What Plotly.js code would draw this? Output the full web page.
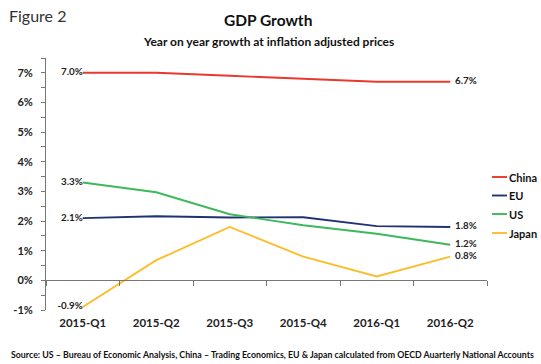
<!DOCTYPE html>
<html>
<head>
<meta charset="utf-8">
<script src="https://cdn.plot.ly/plotly-3.0.1.min.js"></script>
<style>html,body{margin:0;padding:0;background:#fff}#chart{width:541px;height:364px}</style>
</head>
<body>
<div id="chart"></div>
<script>
const quarters = ["2015-Q1","2015-Q2","2015-Q3","2015-Q4","2016-Q1","2016-Q2"];
const china = [7.0, 7.0, 6.9, 6.8, 6.7, 6.7];
const eu    = [2.1, 2.16, 2.12, 2.13, 1.83, 1.8];
const us    = [3.3, 2.97, 2.23, 1.86, 1.57, 1.2];
const japan = [-0.9, 0.68, 1.8, 0.8, 0.13, 0.8];
const seriesNames = ["China","EU","US","Japan"];
const seriesColors = ["#e8392c","#1f3370","#3cb95a","#fdbd2a"];
const yTicks = [-1,0,1,2,3,4,5,6,7];
const yTickText = yTicks.map(v => v + "%");

const FONT = "Lato, 'Liberation Sans', sans-serif";
const allSeries = [china, eu, us, japan];

function endLabels(vals){
  return vals.map((v,i)=> i===0 ? v.toFixed(1)+"%" : (i===vals.length-1 ? "\u00a0\u00a0" + v.toFixed(1)+"%" : ""));
}
function endPos(vals){
  return vals.map((v,i)=> i===0 ? "middle left" : "middle right");
}

const traces = allSeries.map((vals, k) => ({
  type: "scatter",
  mode: "lines+text",
  x: quarters,
  y: vals,
  name: seriesNames[k],
  line: {color: seriesColors[k], width: 1.9},
  text: endLabels(vals),
  textposition: endPos(vals),
  textfont: {family: FONT, size: 9.8, color: "#222", weight: "bold"},
  cliponaxis: false,
  showlegend: false,
  hoverinfo: "skip"
}));

// dummy trace for the zero-line axis
traces.push({type:"scatter", x: quarters, y: quarters.map(()=>null), xaxis:"x2", yaxis:"y", showlegend:false, hoverinfo:"skip"});

const px2x = p => (p - 46) / 441;
const px2y = p => (310 - p) / 252;

const shapes = [];
const annotations = [
  {text:"Figure 2", xref:"paper", yref:"paper", x:px2x(7), y:px2y(16), xanchor:"left", yanchor:"middle", showarrow:false,
   font:{family:FONT, size:16, color:"#333"}},
  {text:"<b>GDP Growth</b>", xref:"paper", yref:"paper", x:px2x(268), y:px2y(20), xanchor:"center", yanchor:"middle", showarrow:false,
   font:{family:FONT, size:15.5, color:"#111"}},
  {text:"<b>Year on year growth at inflation adjusted prices</b>", xref:"paper", yref:"paper", x:px2x(268), y:px2y(41), xanchor:"center", yanchor:"middle", showarrow:false,
   font:{family:FONT, size:12, color:"#111"}},
  {text:"<b>Source: US – Bureau of Economic Analysis, China – Trading Economics, EU &amp; Japan calculated from OECD Auarterly National Accounts</b>", xref:"paper", yref:"paper", x:px2x(9), y:px2y(354), xanchor:"left", yanchor:"middle", showarrow:false,
   font:{family:FONT, size:8.8, color:"#111"}}
];
const legendY = [177, 195.5, 214, 233];
seriesNames.forEach((n,k)=>{
  const py = px2y(legendY[k]);
  shapes.push({type:"line", xref:"paper", yref:"paper", x0:px2x(492), x1:px2x(507), y0:py, y1:py,
    line:{color:seriesColors[k], width:1.9}});
  annotations.push({text:"<b>"+n+"</b>", xref:"paper", yref:"paper", x:px2x(507), y:py, xanchor:"left", yanchor:"middle",
    showarrow:false, font:{family:FONT, size:11, color:"#111"}});
});

const layout = {
  width: 541, height: 364,
  margin: {l:46, r:54, t:58, b:54, pad:0},
  paper_bgcolor:"#fff", plot_bgcolor:"#fff",
  showlegend:false,
  xaxis: {
    type:"category", range:[-0.5,5.5], showline:false, showgrid:false, zeroline:false,
    ticks:"", tickfont:{family:FONT, size:11.5, color:"#222", weight:"bold"}, ticklabelstandoff: 4,
    fixedrange:true
  },
  xaxis2: {
    type:"category", range:[-0.5,5.5], overlaying:"x", anchor:"free", position: 1/8.5,
    showline:true, linecolor:"#777", linewidth:1, showgrid:false, zeroline:false,
    ticks:"outside", tickson:"boundaries", ticklen:5, tickcolor:"#777", showticklabels:false
  },
  yaxis: {
    range:[-1,7.5], tickmode:"array", tickvals:yTicks, ticktext:yTickText,
    showline:true, linecolor:"#777", linewidth:1, showgrid:false, zeroline:false,
    ticks:"outside", ticklen:4, tickcolor:"#777",
    minor:{dtick:0.5, ticks:"outside", ticklen:4, tickcolor:"#777", showgrid:false},
    tickfont:{family:FONT, size:11, color:"#222", weight:"bold"}, ticklabelstandoff: 6
  },
  shapes: shapes,
  annotations: annotations
};

Plotly.newPlot("chart", traces, layout, {staticPlot:true, displayModeBar:false});
</script>
</body>
</html>
